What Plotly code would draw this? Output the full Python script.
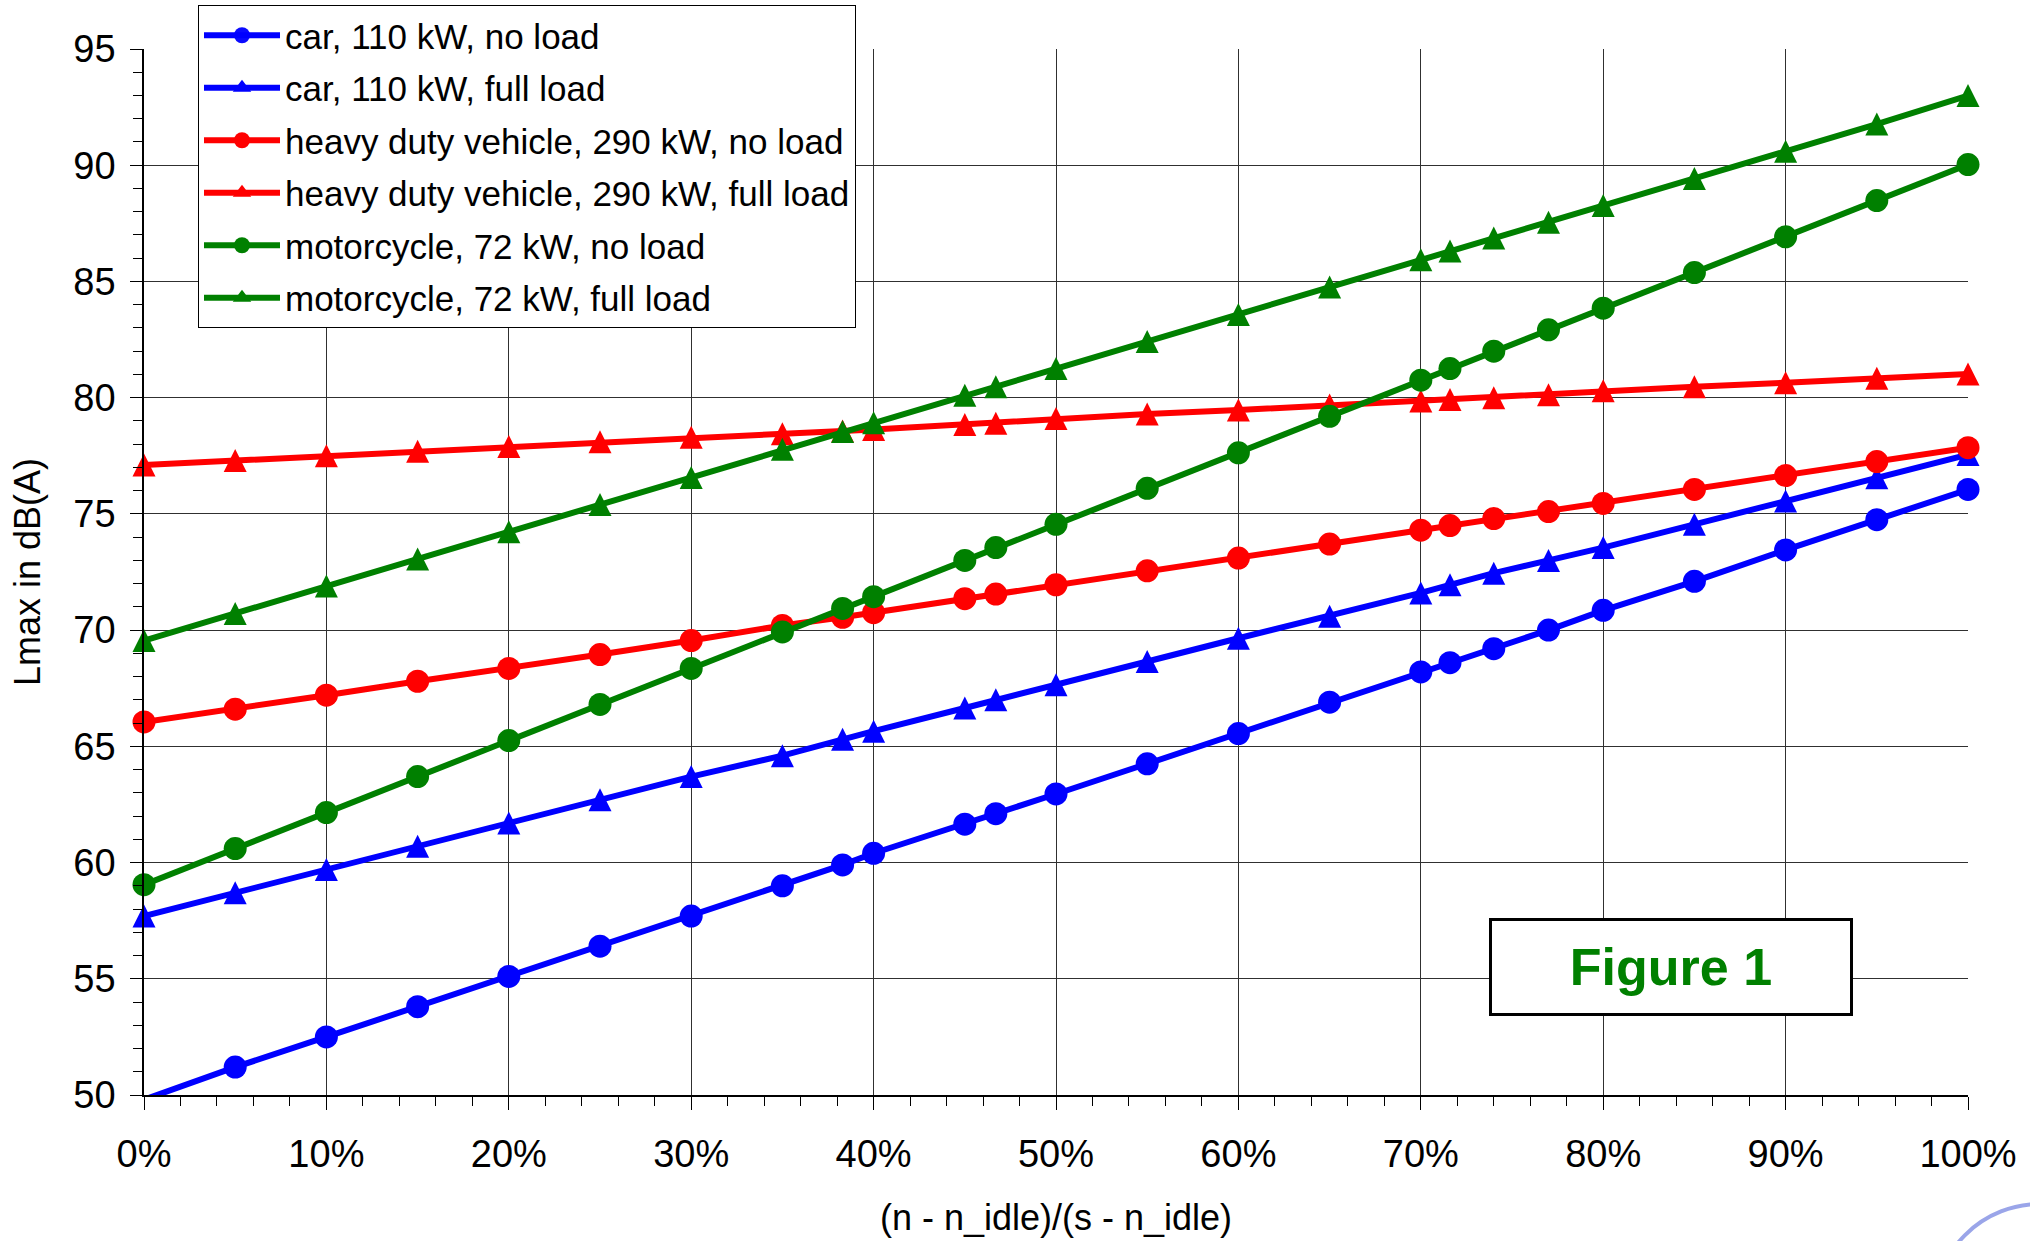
import plotly.graph_objects as go

# ---------------- data ----------------
x_pct = [0, 5, 10, 15, 20, 25, 30, 35, 38.3, 40, 45, 46.7, 50, 55, 60, 65,
         70, 71.6, 74, 77, 80, 85, 90, 95, 100]

car_no_load = [49.8, 51.2, 52.5, 53.8, 55.1, 56.4, 57.7, 59.0, 59.9, 60.4, 61.65, 62.1,
               62.95, 64.25, 65.55, 66.9, 68.2, 68.6, 69.2, 70.0, 70.85, 72.1, 73.45,
               74.75, 76.05]
car_full_load = [57.7, 58.7, 59.7, 60.7, 61.7, 62.7, 63.7, 64.6, 65.3, 65.65, 66.65, 67.0,
                 67.65, 68.65, 69.65, 70.6, 71.6, 71.95, 72.45, 73.0, 73.55, 74.55, 75.55,
                 76.55, 77.55]
hdv_no_load = [66.05, 66.6, 67.2, 67.8, 68.35, 68.95, 69.55, 70.2, 70.55, 70.75, 71.35, 71.55,
               71.95, 72.55, 73.1, 73.7, 74.3, 74.5, 74.8, 75.1, 75.45, 76.05, 76.65,
               77.25, 77.85]
hdv_full_load = [77.1, 77.3, 77.5, 77.7, 77.9, 78.1, 78.3, 78.45, 78.57, 78.63, 78.85, 78.9,
                 79.1, 79.3, 79.47, 79.68, 79.86, 79.92, 80.0, 80.13, 80.3, 80.47, 80.64,
                 80.84, 81.02]
moto_no_load = [59.05, 60.6, 62.15, 63.7, 65.25, 66.8, 68.35, 69.92, 70.93, 71.44, 73.0, 73.55,
                74.55, 76.1, 77.63, 79.2, 80.75, 81.25, 82.0, 82.92, 83.85, 85.38, 86.92,
                88.48, 90.03]
moto_full_load = [69.55, 70.72, 71.9, 73.06, 74.23, 75.4, 76.57, 77.78, 78.54, 78.92, 80.1,
                  80.47, 81.25, 82.42, 83.58, 84.76, 85.93, 86.31, 86.87, 87.55, 88.27,
                  89.43, 90.6, 91.77, 93.0]

series_names = [
    "car, 110 kW, no load",
    "car, 110 kW, full load",
    "heavy duty vehicle, 290 kW, no load",
    "heavy duty vehicle, 290 kW, full load",
    "motorcycle, 72 kW, no load",
    "motorcycle, 72 kW, full load",
]
series_values = [car_no_load, car_full_load, hdv_no_load, hdv_full_load,
                 moto_no_load, moto_full_load]

x_title = "(n - n_idle)/(s - n_idle)"
y_title = "Lmax in dB(A)"
figure_label = "Figure 1"

Y_MIN, Y_MAX = 50, 95
X_MIN, X_MAX = 0, 100

# ---------------- styles ----------------
series_colors = ["#0000FF", "#0000FF", "#FF0000", "#FF0000", "#008000", "#008000"]
series_kind = ["circle", "tri", "circle", "tri", "circle", "tri"]
CIRCLE_SIZE = 23
TRI_SIZE = 23

FONT = "Arial, 'Liberation Sans', sans-serif"
GRID = "#303030"

fig = go.Figure()
for name, vals, col, kind in zip(series_names, series_values, series_colors, series_kind):
    # like the original: markers outside the value axis range are not drawn
    op = [1 if Y_MIN <= v <= Y_MAX else 0 for v in vals]
    if kind == "circle":
        fig.add_trace(go.Scatter(
            x=x_pct, y=vals, name=name, mode="lines+markers", legendgroup=name,
            line=dict(color=col, width=6),
            marker=dict(symbol="circle", size=CIRCLE_SIZE, color=col, opacity=op,
                        line=dict(width=0)),
            cliponaxis=False,
        ))
    else:
        # line + legend entry (plain triangle symbol shown only in the legend)
        fig.add_trace(go.Scatter(
            x=x_pct, y=vals, name=name, mode="lines+markers", legendgroup=name,
            line=dict(color=col, width=6),
            marker=dict(symbol="triangle-up", size=TRI_SIZE, color=col,
                        line=dict(width=0)),
            selectedpoints=[], unselected=dict(marker=dict(opacity=0)),
            cliponaxis=False,
        ))
        # the original triangles are as tall as they are wide: plotly's 'arrow-down'
        # turned by 180 degrees, lifted by half its height so it is centred
        fig.add_trace(go.Scatter(
            x=x_pct, y=vals, name=name, mode="markers", legendgroup=name,
            showlegend=False,
            marker=dict(symbol="arrow-down", size=TRI_SIZE, angle=180,
                        standoff=TRI_SIZE / 2, color=col, opacity=op,
                        line=dict(width=0)),
            cliponaxis=False,
        ))

L, R, T, B = 144, 62, 49, 146
W, H = 2030, 1241
pw, ph = W - L - R, H - T - B


def px_to_paper(px, py):
    return (px - L) / pw, (H - B - py) / ph


fig.update_layout(
    width=W, height=H,
    margin=dict(l=L, r=R, t=T, b=B, pad=0, autoexpand=False),
    paper_bgcolor="white", plot_bgcolor="white",
    font=dict(family=FONT, color="black"),
    showlegend=True,
    xaxis=dict(
        range=[X_MIN, X_MAX], tickmode="linear", tick0=0, dtick=10, ticksuffix="%",
        showgrid=True, gridcolor=GRID, gridwidth=1,
        showline=True, linecolor="black", linewidth=1.5,
        ticks="outside", ticklen=13, tickcolor="black", tickwidth=1.2,
        minor=dict(dtick=2, ticks="outside", ticklen=9, tickcolor="black",
                   tickwidth=1, showgrid=False),
        tickfont=dict(size=38, family=FONT, color="black"),
        ticklabelstandoff=12,
        zeroline=False, automargin=False,
        title=dict(text=x_title, font=dict(size=36, family=FONT, color="black"),
                   standoff=30),
    ),
    yaxis=dict(
        range=[Y_MIN, Y_MAX], tickmode="linear", tick0=50, dtick=5,
        showgrid=True, gridcolor=GRID, gridwidth=1,
        showline=True, linecolor="black", linewidth=1.5,
        ticks="outside", ticklen=12, tickcolor="black", tickwidth=1.2,
        minor=dict(dtick=1, ticks="outside", ticklen=9, tickcolor="black",
                   tickwidth=1, showgrid=False),
        tickfont=dict(size=38, family=FONT, color="black"),
        ticklabelstandoff=7,
        zeroline=False, automargin=False,
        title=dict(text=y_title, font=dict(size=36, family=FONT, color="black"),
                   standoff=22),
    ),
    # overlay axes so that the ticks cross the axis lines as in the original
    xaxis2=dict(
        overlaying="x", anchor="y", side="bottom", range=[X_MIN, X_MAX],
        tickmode="linear", tick0=0, dtick=10, showgrid=False, showticklabels=False,
        showline=False, zeroline=False, ticks="inside", ticklen=9, tickcolor="black",
        tickwidth=1,
        minor=dict(dtick=2, ticks="inside", ticklen=9, tickcolor="black", tickwidth=1,
                   showgrid=False),
    ),
    yaxis2=dict(
        overlaying="y", anchor="x", side="left", range=[Y_MIN, Y_MAX],
        tickmode="linear", tick0=50, dtick=5, showgrid=False, showticklabels=False,
        showline=False, zeroline=False, ticks="inside", ticklen=9, tickcolor="black",
        tickwidth=1,
        minor=dict(dtick=1, ticks="inside", ticklen=9, tickcolor="black", tickwidth=1,
                   showgrid=False),
    ),
    legend=dict(
        x=px_to_paper(198, 0)[0], y=px_to_paper(0, 5)[1],
        xanchor="left", yanchor="top",
        bgcolor="white", bordercolor="black", borderwidth=1,
        font=dict(size=35, family=FONT, color="black"),
        itemwidth=76, tracegroupgap=4, traceorder="grouped",
        itemsizing="trace",
    ),
)

# "Figure 1" label box
bx0, by0, bx1, by1 = 1489, 918, 1853, 1016
cx, cy = px_to_paper((bx0 + bx1) / 2, (by0 + by1) / 2)
fig.add_annotation(
    x=cx, y=cy, xref="paper", yref="paper", xanchor="center", yanchor="middle",
    text="<b>%s</b>" % figure_label, showarrow=False,
    font=dict(size=52, family=FONT, color="#008000"),
    bgcolor="white", bordercolor="black", borderwidth=3, borderpad=0,
    width=bx1 - bx0 - 6, height=by1 - by0 - 6, align="center", valign="middle",
)

# faint logo arc in the bottom-right corner
ax0, ay0 = px_to_paper(1934, 1416)
ax1, ay1 = px_to_paper(2146, 1204)
fig.add_shape(type="circle", xref="paper", yref="paper",
              x0=ax0, y0=ay0, x1=ax1, y1=ay1,
              line=dict(color="#7080e0", width=4), opacity=0.7, layer="above")

fig.write_html("out.html", post_script="document.body.style.margin='0';")
